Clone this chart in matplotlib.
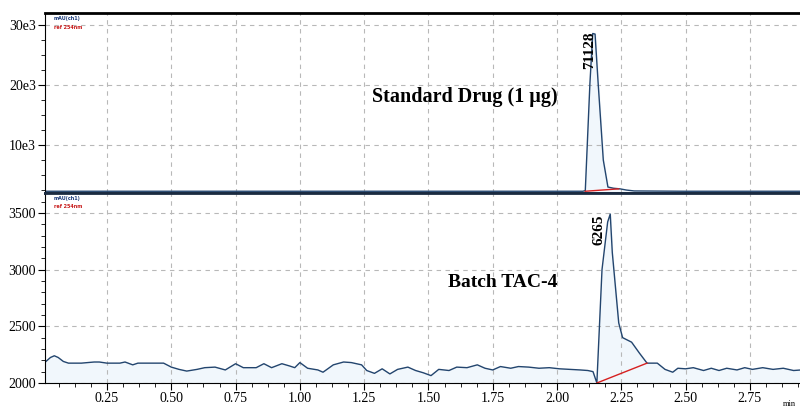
import matplotlib.pyplot as plt
from matplotlib.ticker import MultipleLocator, FuncFormatter

# retention time (min) and signal, standard drug
std_t = [0.01, 0.50, 1.00, 1.50, 2.00, 2.10, 2.11, 2.128, 2.139, 2.148, 2.16, 2.18,
         2.198, 2.22, 2.245, 2.27, 2.30, 2.50, 2.95]
std_y = [2300, 2300, 2300, 2300, 2300, 2300, 2400, 20300, 28600, 28500, 20300, 7500,
         3000, 2800, 2700, 2500, 2350, 2300, 2300]
std_base_t = [2.11, 2.24]
std_base_y = [2300, 2700]

# batch TAC-4
bat_t = [0.01, 0.03, 0.045, 0.06, 0.08, 0.10, 0.15, 0.20, 0.22, 0.25, 0.30, 0.32, 0.35,
         0.37, 0.42, 0.47, 0.50, 0.53, 0.56, 0.60, 0.63, 0.67, 0.71, 0.75, 0.78, 0.83,
         0.86, 0.89, 0.93, 0.96, 0.98, 1.00, 1.03, 1.07, 1.09, 1.13, 1.17, 1.20, 1.24,
         1.26, 1.29, 1.32, 1.35, 1.38, 1.42, 1.45, 1.48, 1.51, 1.54, 1.58, 1.61, 1.65,
         1.69, 1.72, 1.75, 1.78, 1.82, 1.85, 1.89, 1.93, 1.97, 2.01, 2.05, 2.09, 2.12,
         2.14, 2.155, 2.175, 2.197, 2.207, 2.215, 2.24, 2.255, 2.29, 2.32, 2.35, 2.39,
         2.42, 2.45, 2.47, 2.50, 2.53, 2.57, 2.60, 2.63, 2.66, 2.70, 2.73, 2.76, 2.80,
         2.84, 2.88, 2.92, 2.95]
bat_y = [2185, 2225, 2240, 2225, 2190, 2175, 2175, 2185, 2185, 2175, 2175, 2185, 2160,
         2175, 2175, 2175, 2140, 2120, 2105, 2120, 2135, 2140, 2115, 2170, 2135, 2135,
         2170, 2135, 2170, 2150, 2135, 2180, 2130, 2115, 2095, 2160, 2185, 2180, 2160,
         2110, 2085, 2125, 2080, 2120, 2140, 2110, 2090, 2065, 2120, 2110, 2140, 2135,
         2160, 2130, 2115, 2145, 2130, 2145, 2140, 2130, 2135, 2125, 2120, 2115, 2110,
         2100, 2000, 3000, 3420, 3490, 3150, 2530, 2400, 2360, 2265, 2175, 2175,
         2120, 2095, 2130, 2125, 2135, 2110, 2130, 2110, 2130, 2115, 2135, 2120, 2135,
         2120, 2130, 2110, 2115]
bat_base_t = [2.155, 2.35]
bat_base_y = [2000, 2175]

line_c = '#23456e'
tick_font = ['Liberation Serif', 'DejaVu Serif']
serif = ['Liberation Serif', 'DejaVu Serif']

fig = plt.figure(figsize=(8, 4.09), dpi=100)
ax1 = fig.add_axes([0.056, 0.528, 0.944, 0.44])
ax2 = fig.add_axes([0.056, 0.0636, 0.944, 0.4644])

for ax in (ax1, ax2):
    ax.set_xlim(0.008, 2.945)
    ax.xaxis.set_major_locator(MultipleLocator(0.25))
    ax.xaxis.set_minor_locator(MultipleLocator(0.0625))
    ax.grid(True, which='major', color='#b8b8b8', linestyle=(0, (4, 4)), linewidth=0.8)
    ax.tick_params(which='both', direction='out', color='black', labelsize=10, pad=1.5)
    ax.tick_params(which='major', length=5)
    ax.tick_params(which='minor', length=3)
    ax.spines['right'].set_visible(False)

ax1.plot(std_t, std_y, color=line_c, lw=1.0)
ax1.fill_between(std_t, 2000, std_y, color='#f1f7fc', zorder=0)
ax1.plot(std_base_t, std_base_y, color='#d62020', lw=1.0)
ax1.set_ylim(2000, 32000)
ax1.yaxis.set_major_locator(MultipleLocator(10000))
ax1.yaxis.set_minor_locator(MultipleLocator(2500))
ax1.yaxis.set_major_formatter(FuncFormatter(lambda v, p: '%de3' % (v / 1000)))
ax1.tick_params(axis='x', labelbottom=False)
ax1.spines['top'].set_linewidth(2)
ax1.spines['bottom'].set_linewidth(2)
ax1.spines['bottom'].set_color('#1a2a40')

ax2.plot(bat_t, bat_y, color=line_c, lw=1.0)
ax2.fill_between(bat_t, 2000, bat_y, color='#f1f7fc', zorder=0)
ax2.plot(bat_base_t, bat_base_y, color='#d62020', lw=1.0)
ax2.set_ylim(2000, 3675)
ax2.yaxis.set_major_locator(MultipleLocator(500))
ax2.yaxis.set_minor_locator(MultipleLocator(100))
ax2.xaxis.set_major_formatter(FuncFormatter(lambda v, p: '%.2f' % v))
ax2.spines['top'].set_linewidth(2)
ax2.spines['top'].set_color('#1a2a40')

for ax in (ax1, ax2):
    for lab in ax.get_xticklabels() + ax.get_yticklabels():
        lab.set_family(tick_font)

ax1.text(1.642, 18000, 'Standard Drug (1 \u00b5g)', family=serif, fontweight='bold',
         fontsize=14.5, ha='center', va='center')
ax2.text(1.79, 2886, 'Batch TAC-4', family=serif, fontweight='bold',
         fontsize=14, ha='center', va='center')
ax1.text(2.127, 28900, '71128', family=serif, fontweight='bold', fontsize=11,
         rotation=90, ha='center', va='top')
ax2.text(2.163, 3485, '6265', family=serif, fontweight='bold', fontsize=11,
         rotation=90, ha='center', va='top')

# tiny channel legends
ax1.text(0.012, 0.985, 'mAU(ch1)', transform=ax1.transAxes, fontsize=3.5,
         color='#1a3a7a', fontweight='bold', va='top')
ax1.text(0.012, 0.935, 'ref 254nm', transform=ax1.transAxes, fontsize=3.5,
         color='#c81e1e', fontweight='bold', va='top')
ax2.text(0.012, 0.985, 'mAU(ch1)', transform=ax2.transAxes, fontsize=3.5,
         color='#1a3a7a', fontweight='bold', va='top')
ax2.text(0.012, 0.94, 'ref 254nm', transform=ax2.transAxes, fontsize=3.5,
         color='#c81e1e', fontweight='bold', va='top')
fig.text(0.995, 0.008, 'min', fontsize=6, family=tick_font, ha='right')

fig.savefig('out.png', dpi=100)
